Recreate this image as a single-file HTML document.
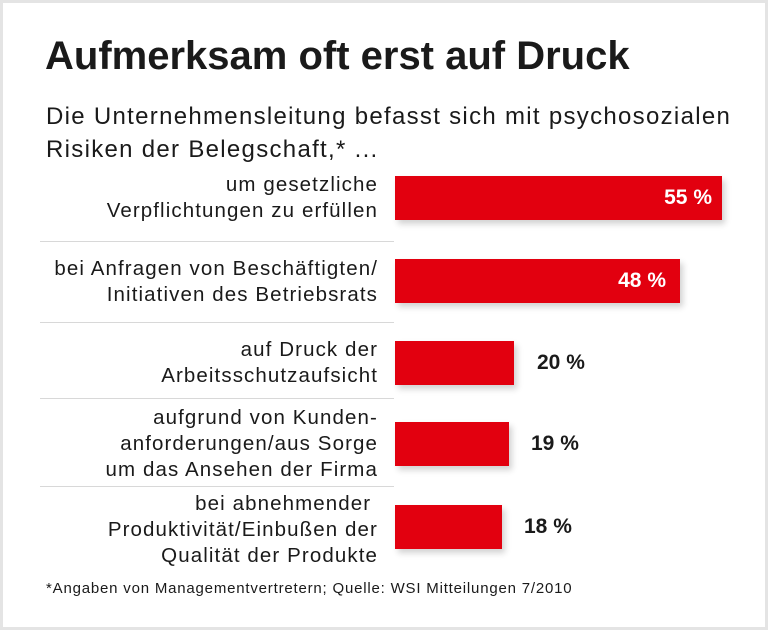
<!DOCTYPE html>
<html><head><style>
*{margin:0;padding:0}
body{width:768px;height:630px;background:#fff;font-family:"Liberation Sans",sans-serif;color:#1a1a1a;position:relative;overflow:hidden}
.frame{position:absolute;left:0;top:0;width:762px;height:624px;border:3px solid #e4e4e4}
.t{position:absolute;white-space:nowrap}
.lab{position:absolute;right:390px;text-align:right;font-size:20.5px;letter-spacing:1.1px;line-height:26px;white-space:nowrap}
.bar{position:absolute;left:395px;height:44px;background:#e2000f;box-shadow:3px 4px 6px rgba(0,0,0,0.18)}
.in{position:absolute;color:#fff;font-weight:bold;font-size:21px;line-height:44px}
.out{position:absolute;font-weight:bold;font-size:21px;line-height:44px}
.sep{position:absolute;left:40px;width:354px;height:1px;background:#d8d8d8}
</style></head><body>
<div class="frame"></div>
<div class="t" style="left:45px;top:34px;font-size:40px;font-weight:bold;letter-spacing:0px">Aufmerksam oft erst auf Druck</div>
<div class="t" style="left:46px;top:100px;font-size:24px;letter-spacing:1.3px;line-height:33px">Die Unternehmensleitung befasst sich mit psychosozialen<br>Risiken der Belegschaft,* ...</div>

<div class="lab" style="top:172px">um gesetzliche<br>Verpflichtungen zu erfüllen</div>
<div class="bar" style="top:176px;width:327px"><span class="in" style="right:10px">55 %</span></div>
<div class="sep" style="top:241px"></div>

<div class="lab" style="top:256px">bei Anfragen von Beschäftigten/<br>Initiativen des Betriebsrats</div>
<div class="bar" style="top:259px;width:285px"><span class="in" style="right:14px">48 %</span></div>
<div class="sep" style="top:322px"></div>

<div class="lab" style="top:337px">auf Druck der<br>Arbeitsschutzaufsicht</div>
<div class="bar" style="top:341px;width:119px"></div>
<div class="out" style="left:537px;top:341px">20 %</div>
<div class="sep" style="top:398px"></div>

<div class="lab" style="top:405px">aufgrund von Kunden-<br>anforderungen/aus Sorge<br>um das Ansehen der Firma</div>
<div class="bar" style="top:422px;width:114px"></div>
<div class="out" style="left:531px;top:422px">19 %</div>
<div class="sep" style="top:486px"></div>

<div class="lab" style="top:491px">bei abnehmender&nbsp;<br>Produktivität/Einbußen der<br>Qualität der Produkte</div>
<div class="bar" style="top:505px;width:107px"></div>
<div class="out" style="left:524px;top:505px">18 %</div>

<div class="t" style="left:46px;top:580px;font-size:15px;letter-spacing:0.8px">*Angaben von Managementvertretern; Quelle: WSI Mitteilungen 7/2010</div>
</body></html>
